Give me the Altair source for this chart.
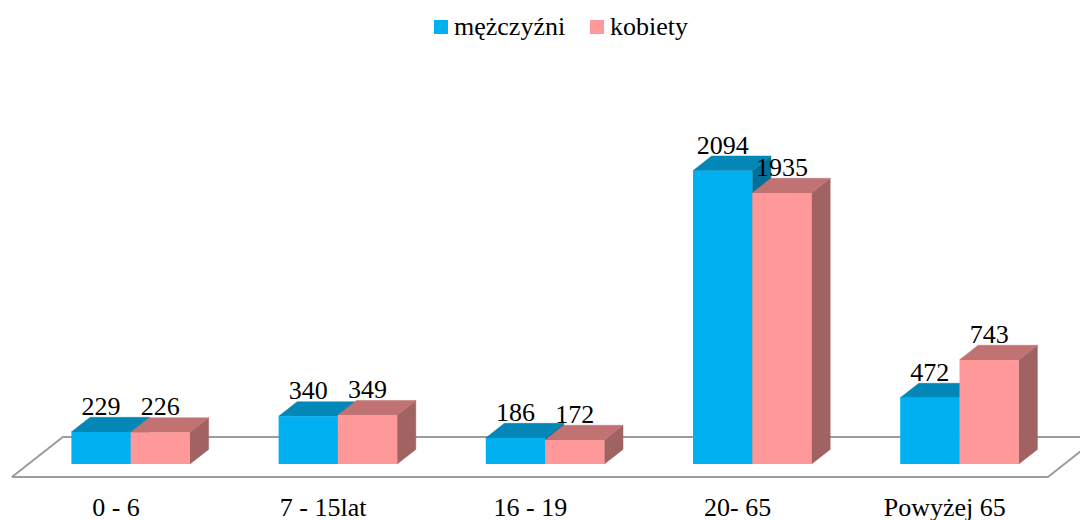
import json
import altair as alt
import pandas as pd

# ---- data ----
categories = ["0 - 6", "7 - 15lat", "16 - 19", "20- 65", "Powyżej 65"]
series = ["mężczyźni", "kobiety"]
men = [229, 340, 186, 2094, 472]
women = [226, 349, 172, 1935, 743]

# ---- styles ----
FRONT = ["#00B0F0", "#FF9999"]
TOP = ["#0387B6", "#C17272"]
SIDE = ["#016F98", "#A16262"]
FONT = "Liberation Serif"

# ---- geometry (pixels converted through the scale factors) ----
W, H = 1072, 472
X_DOMAIN = [-0.0188, 5.1549]
Y_DOMAIN = [-114.2, 3254.8]
SX = W / (X_DOMAIN[1] - X_DOMAIN[0])
SY = H / (Y_DOMAIN[1] - Y_DOMAIN[0])

BAR_W = 59.3 / SX
BAR_SHIFT = 15.2 / SX
DEPTH_DX = 18.6 / SX
DEPTH_DY = 14.6 / SY
FLOOR_FRONT = -13 / SY
FLOOR_DX = 51 / SX
FLOOR_DY = 40 / SY

bar_rows, side_rows, top_rows = [], [], []
for i, cat in enumerate(categories):
    for j, vals in enumerate([men, women]):
        v = vals[i]
        center = i + 0.5 + BAR_SHIFT
        left = center - BAR_W + j * BAR_W
        right = left + BAR_W
        bid = f"{i}-{j}"
        s = series[j]
        bar_rows.append(dict(id=bid, series=s, value=v, x=left, x2=right,
                             xm=(left + right) / 2, y=v, y2=0))
        side_rows.append(dict(id=bid, series=s, x=right, y=v, y2=0))
        side_rows.append(dict(id=bid, series=s, x=right + DEPTH_DX,
                              y=v + DEPTH_DY, y2=DEPTH_DY))
        top_rows.append(dict(id=bid, series=s, y=v, x=left, x2=right))
        top_rows.append(dict(id=bid, series=s, y=v + DEPTH_DY,
                             x=left + DEPTH_DX, x2=right + DEPTH_DX))

bars = pd.DataFrame(bar_rows)
sides = pd.DataFrame(side_rows)
tops = pd.DataFrame(top_rows)

n = len(categories)
floor = pd.DataFrame({
    "x": [0, n, n + FLOOR_DX, FLOOR_DX, 0],
    "y": [FLOOR_FRONT, FLOOR_FRONT, FLOOR_FRONT + FLOOR_DY,
          FLOOR_FRONT + FLOOR_DY, FLOOR_FRONT],
    "o": [0, 1, 2, 3, 4],
})

label_expr = "{}[floor(datum.value)]".format(json.dumps(categories, ensure_ascii=False))
xaxis = alt.Axis(values=[i + 0.5 for i in range(n)], labelExpr=label_expr,
                 title=None, domain=False, ticks=False, grid=False,
                 labelFont=FONT, labelFontSize=26, labelColor="#000000",
                 labelBaseline="alphabetic", labelPadding=35,
                 labelFlush=False, labelOverlap=False)
xscale = alt.Scale(domain=X_DOMAIN, nice=False, zero=False)
yscale = alt.Scale(domain=Y_DOMAIN, nice=False, zero=False)


def X(field="x"):
    return alt.X(f"{field}:Q", scale=xscale, axis=xaxis, title=None)


def Y(field="y"):
    return alt.Y(f"{field}:Q", scale=yscale, axis=None, title=None)


floor_layer = alt.Chart(floor).mark_line(
    color="#9C9C9C", strokeWidth=2, clip=True
).encode(x=X(), y=Y(), order="o:Q")

layers = [floor_layer]
for j, s in enumerate(series):
    side = alt.Chart(sides[sides.series == s]).mark_area(
        orient="vertical", color=SIDE[j], stroke=SIDE[j], strokeWidth=0.5
    ).encode(x=X(), y=Y(), y2="y2:Q", detail="id:N")
    top = alt.Chart(tops[tops.series == s]).mark_area(
        orient="horizontal", color=TOP[j], stroke=TOP[j], strokeWidth=0.5
    ).encode(y=Y(), x=X(), x2="x2:Q", detail="id:N")
    layers += [side, top]

front = alt.Chart(bars).mark_rect().encode(
    x=X(), x2="x2:Q", y=Y(), y2="y2:Q",
    color=alt.Color("series:N",
                    scale=alt.Scale(domain=series, range=FRONT),
                    sort=series,
                    legend=alt.Legend(orient="none", legendX=420, legendY=6,
                                      direction="horizontal", title=None,
                                      symbolType="square", symbolSize=196,
                                      symbolStrokeWidth=0, symbolOpacity=1,
                                      labelFont=FONT, labelFontSize=26,
                                      labelColor="#000000", labelOffset=0,
                                      columnPadding=18, padding=0)),
)
layers.append(front)

labels = alt.Chart(bars).mark_text(
    font=FONT, fontSize=26, color="#000000", baseline="alphabetic",
    align="center", dy=-17
).encode(x=X("xm"), y=Y(), text="value:Q")
layers.append(labels)

chart = alt.layer(*layers).properties(
    width=W, height=H, padding={"left": 0, "top": 0, "right": 0, "bottom": 0}
).configure(
    background="#ffffff", font=FONT
).configure_view(
    strokeWidth=0, stroke="transparent"
).configure_legend(
    labelFont=FONT
).configure_text(
    font=FONT
)

chart.save("out.html", embed_options={"renderer": "svg", "actions": False})
